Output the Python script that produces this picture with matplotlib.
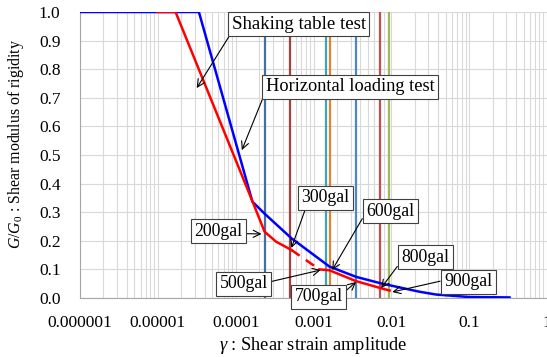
import numpy as np
import matplotlib
matplotlib.use('Agg')
from matplotlib import pyplot as plt
from matplotlib.ticker import FixedLocator, FixedFormatter, LogLocator, NullFormatter

plt.rcParams['font.family'] = ['Liberation Serif', 'DejaVu Serif']
plt.rcParams['mathtext.fontset'] = 'custom'
plt.rcParams['mathtext.rm'] = 'Liberation Serif'
plt.rcParams['mathtext.it'] = 'Liberation Serif:italic'

# shaking table test (blue)
shake_x = [1e-6, 3.37e-5, 1.64e-4, 2.35e-4, 5.2e-4, 1.6e-3, 3.52e-3, 7.4e-3,
           0.0229, 0.0378, 0.1, 0.33]
shake_y = [1.0, 1.0, 0.337, 0.295, 0.209, 0.110, 0.074, 0.051,
           0.022, 0.012, 0.0035, 0.002]

# horizontal loading test (red), with a dashed gap
load1_x = [1e-5, 1.69e-5, 1.66e-4, 2.35e-4, 3.3e-4, 5.2e-4]
load1_y = [1.0, 1.0, 0.335, 0.232, 0.197, 0.168]
load_dash_x = [5.2e-4, 1.19e-3]
load_dash_y = [0.168, 0.100]
load2_x = [1.19e-3, 1.6e-3, 3.52e-3, 7.4e-3, 9.5e-3]
load2_y = [0.100, 0.097, 0.059, 0.034, 0.026]

# vertical lines for each input acceleration
gal_labels = ['200gal', '300gal', '500gal', '600gal', '700gal', '800gal', '900gal']
gal_strain = [2.35e-4, 5.03e-4, 1.43e-3, 1.64e-3, 3.52e-3, 7.23e-3, 9.43e-3]
gal_colors = ['#41719C', '#A9403D', '#3FA3B9', '#E0842F', '#4A86C8', '#C0504D', '#9BBB59']

xticks = [1e-6, 1e-5, 1e-4, 1e-3, 1e-2, 1e-1, 1]
xticklabels = ['0.000001', '0.00001', '0.0001', '0.001', '0.01', '0.1', '1']

fig = plt.figure(figsize=(5.47, 3.57), dpi=100)
ax = fig.add_axes([80/547, 59/357, 467/547, 286/357])

for xv, c in zip(gal_strain, gal_colors):
    ax.axvline(xv, color=c, lw=1.6, zorder=2)

ax.plot(shake_x, shake_y, color='#0000FF', lw=1.8, zorder=3)
ax.plot(load1_x, load1_y, color='#FF0000', lw=1.8, zorder=4)
ax.plot(load_dash_x, load_dash_y, color='#FF0000', lw=1.8, ls=(0, (4, 3)), zorder=4)
ax.plot(load2_x, load2_y, color='#FF0000', lw=1.8, zorder=4)

ax.set_xscale('log')
ax.set_xlim(1e-6, 1)
ax.set_ylim(0, 1)
ax.xaxis.set_major_locator(FixedLocator(xticks))
ax.xaxis.set_major_formatter(FixedFormatter(xticklabels))
ax.xaxis.set_minor_locator(LogLocator(base=10, subs=np.arange(2, 10), numticks=20))
ax.xaxis.set_minor_formatter(NullFormatter())
ax.set_yticks(np.arange(0, 1.01, 0.1))
ax.set_yticklabels(['%.1f' % v for v in np.arange(0, 1.01, 0.1)])
ax.grid(which='both', axis='x', color='#d9d9d9', lw=0.8, zorder=0)
ax.grid(which='major', axis='y', color='#d9d9d9', lw=0.8, zorder=0)
ax.set_axisbelow(True)
ax.tick_params(which='both', length=0, labelsize=12.5)
ax.tick_params(axis='x', pad=12)
ax.tick_params(axis='y', pad=14)
for s in ['top', 'right']:
    ax.spines[s].set_visible(False)
for s in ['left', 'bottom']:
    ax.spines[s].set_color('#a6a6a6')
    ax.spines[s].set_linewidth(0.8)

ax.set_xlabel(r'$\gamma$ : Shear strain amplitude', fontsize=13.2, labelpad=3)
ax.set_ylabel(r'$G/G_0$ : Shear modulus of rigidity', fontsize=11.4)
ax.yaxis.set_label_coords(-0.116, 0.54)

box = dict(boxstyle='square,pad=0.2', fc='white', ec='#404040', lw=0.8)

def note(text, xy, xytext, relpos, size=12.8):
    ax.annotate(text, xy=xy, xytext=xytext, ha='center', va='center',
                fontsize=size, bbox=box, zorder=6, annotation_clip=False,
                arrowprops=dict(arrowstyle='->', color='black', lw=0.8,
                                relpos=relpos, shrinkA=0, shrinkB=0))

note('Shaking table test', (3.16e-5, 0.734), (6.43e-4, 0.958), (0.0, 0.0), 13.6)
note('Horizontal loading test', (1.2e-4, 0.517), (2.98e-3, 0.738), (0.0, 0.3), 13.2)
note('200gal', (2.15e-4, 0.224), (6.05e-5, 0.234), (1.0, 0.35))
note('300gal', (5.2e-4, 0.175), (1.43e-3, 0.35), (0.1, 0.0))
note('600gal', (1.74e-3, 0.098), (9.7e-3, 0.304), (0.0, 0.45))
note('500gal', (1.24e-3, 0.098), (1.27e-4, 0.049), (1.0, 0.6))
note('700gal', (3.52e-3, 0.056), (1.16e-3, 0.0035), (1.0, 0.7))
note('800gal', (7.4e-3, 0.035), (0.0273, 0.143), (0.05, 0.45))
note('900gal', (0.0103, 0.021), (0.097, 0.056), (0.0, 0.6))

fig.savefig('out.png', dpi=100)
